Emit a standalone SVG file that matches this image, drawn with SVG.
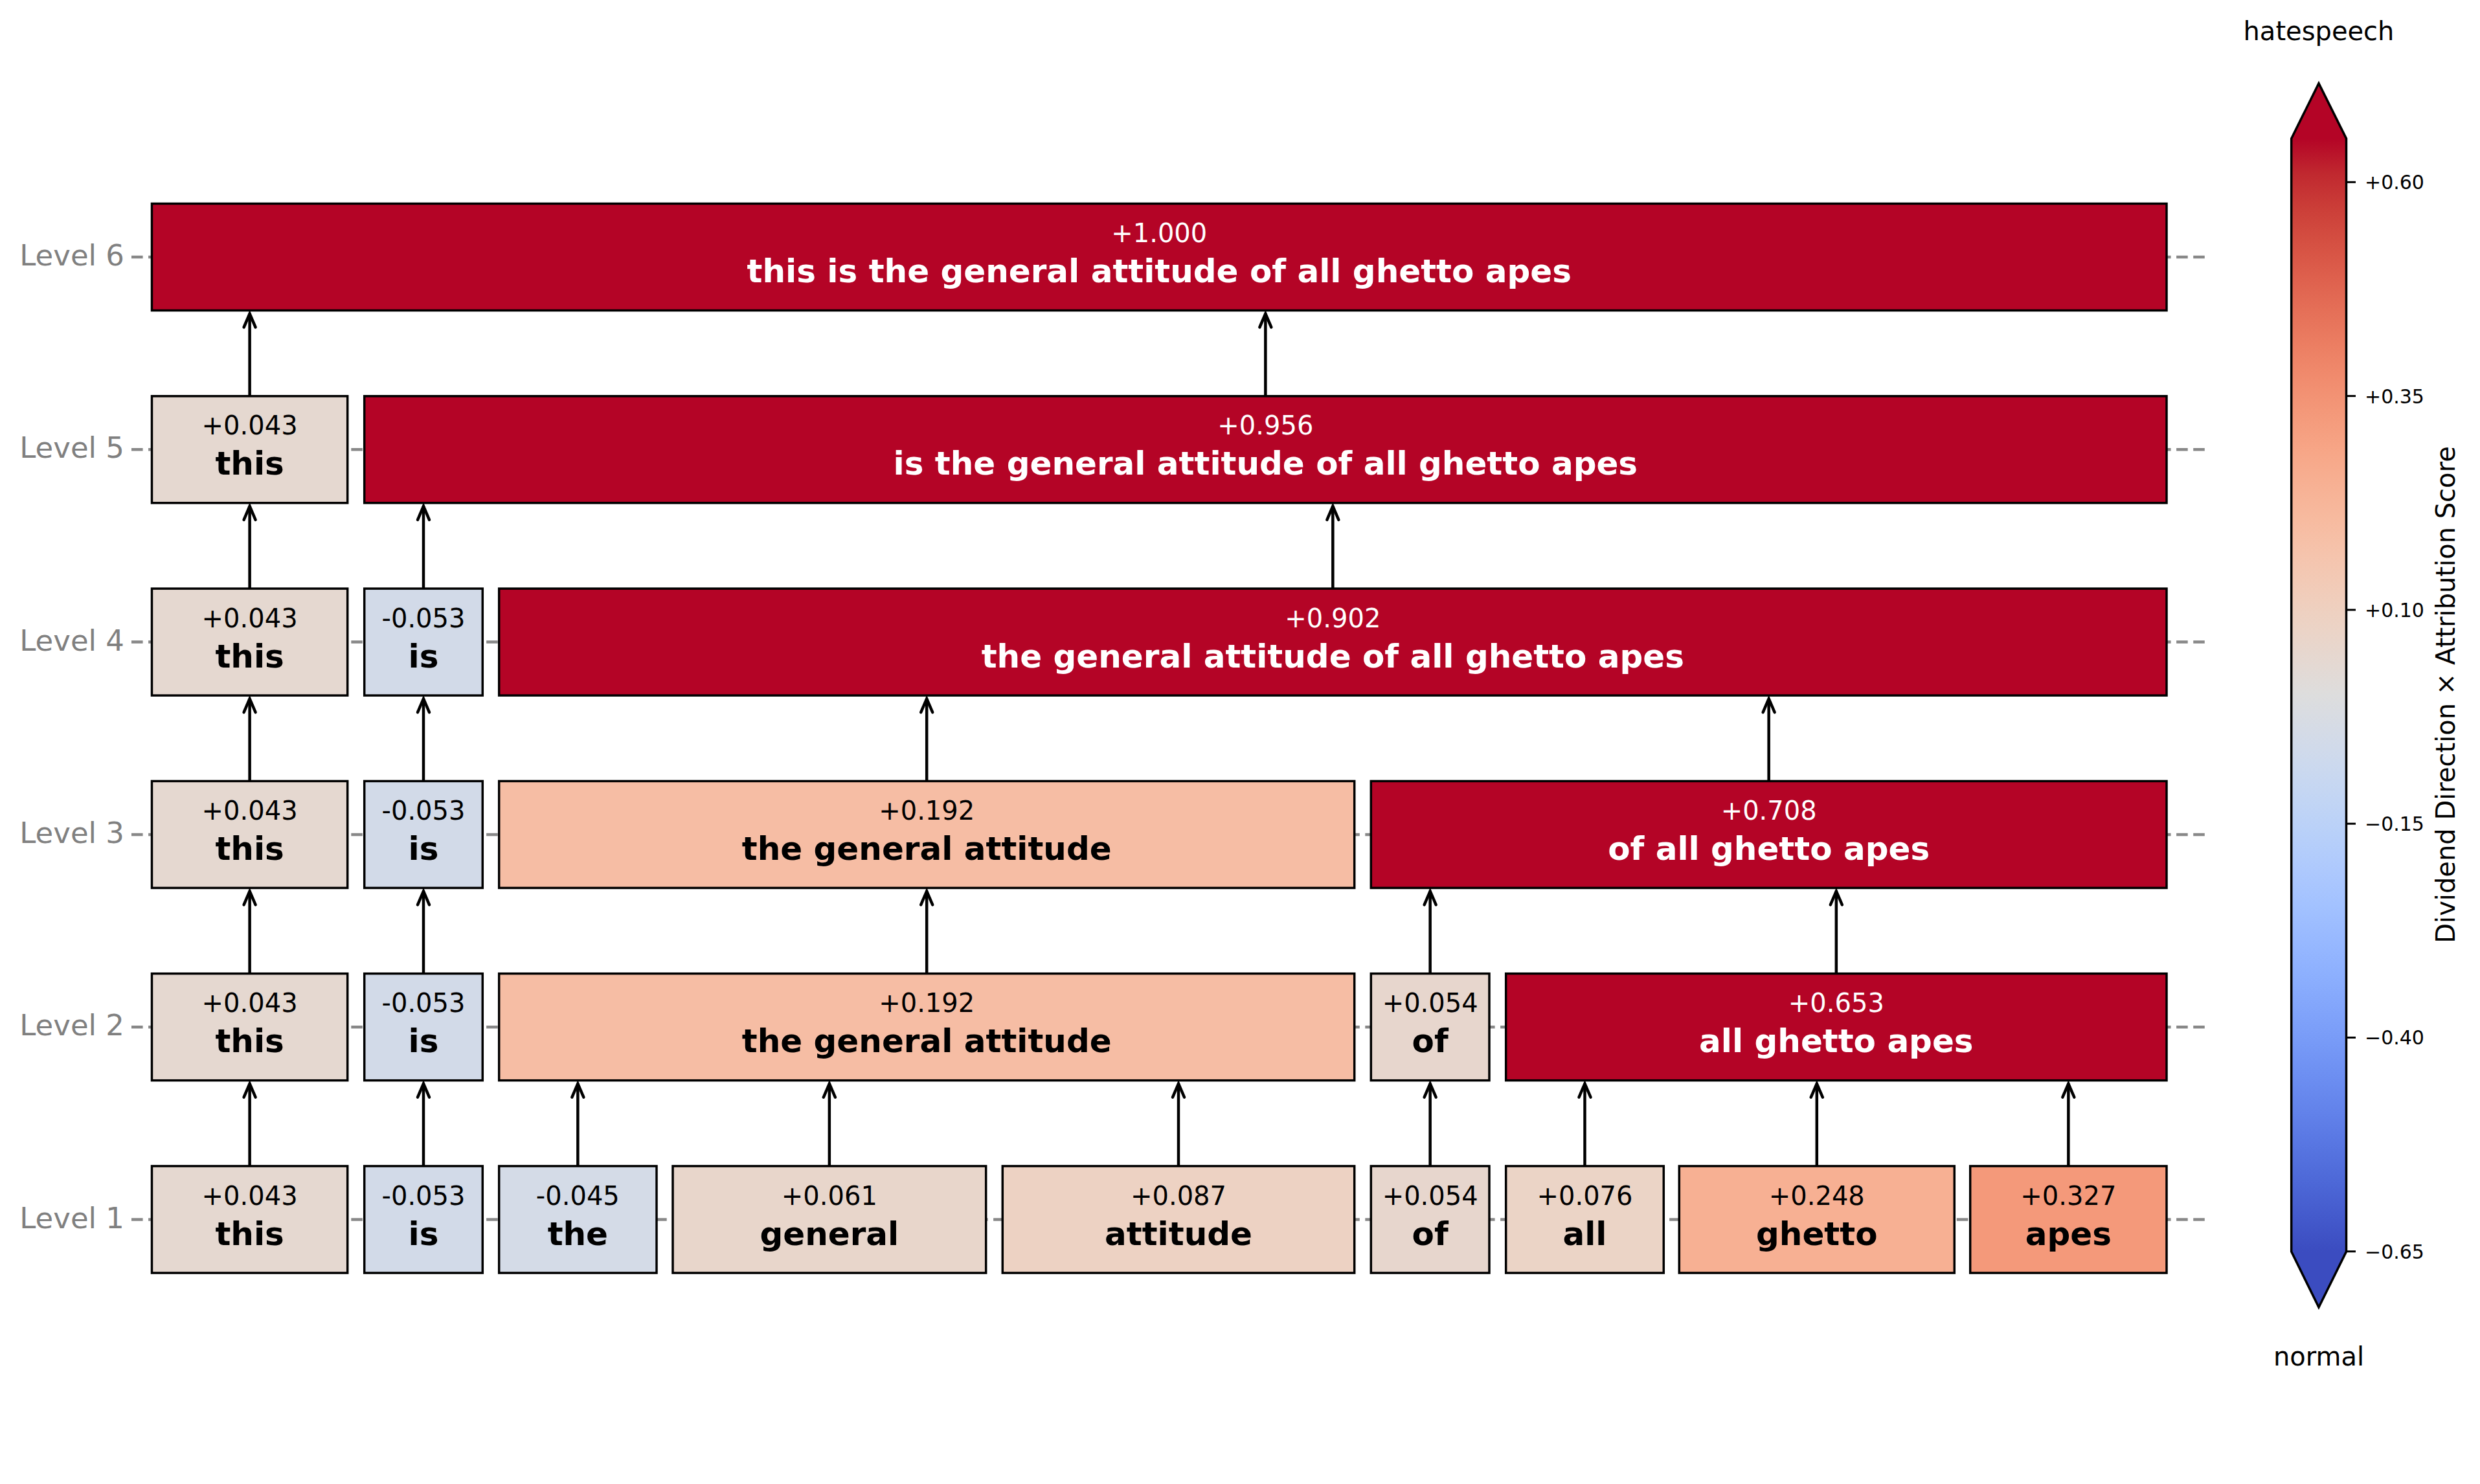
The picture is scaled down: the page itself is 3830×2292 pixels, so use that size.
<svg xmlns="http://www.w3.org/2000/svg" width="3830" height="2292" viewBox="0 0 3830 2292">
<defs>
<style>
text{font-family:"DejaVu Sans","Liberation Sans",sans-serif}
.bx{stroke:#000;stroke-width:3.5}
.val{font-size:40px;text-anchor:middle}
.tok{font-size:50px;font-weight:bold;text-anchor:middle}
.w{fill:#fff}
.k{fill:#000}
.lvl{font-size:45px;fill:#808080;text-anchor:end}
.grid{stroke:#888;stroke-width:4.5;stroke-dasharray:17.6 8.5;fill:none}
.arr{stroke:#000;stroke-width:4.5;fill:none;marker-end:url(#ah)}
.tick{stroke:#000;stroke-width:3}
.tl{font-size:30px;fill:#000}
.cbl{font-size:40px;fill:#000;text-anchor:middle}
</style>
<marker id="ah" markerUnits="userSpaceOnUse" viewBox="-25 -12 28 24" refX="0" refY="0" markerWidth="28" markerHeight="24" orient="auto" overflow="visible">
<path d="M-21,-9 L0,0 L-21,9" fill="none" stroke="#000" stroke-width="4.5" stroke-linecap="round" stroke-linejoin="miter"/>
</marker>
<linearGradient id="cw" gradientUnits="userSpaceOnUse" x1="0" y1="214" x2="0" y2="1933">
<stop offset="0" stop-color="rgb(180,4,38)"/>
<stop offset="0.03125" stop-color="rgb(192,40,47)"/>
<stop offset="0.0625" stop-color="rgb(203,62,56)"/>
<stop offset="0.09375" stop-color="rgb(213,80,66)"/>
<stop offset="0.125" stop-color="rgb(222,96,77)"/>
<stop offset="0.15625" stop-color="rgb(229,112,88)"/>
<stop offset="0.1875" stop-color="rgb(236,127,99)"/>
<stop offset="0.21875" stop-color="rgb(241,141,111)"/>
<stop offset="0.25" stop-color="rgb(244,154,123)"/>
<stop offset="0.28125" stop-color="rgb(247,166,135)"/>
<stop offset="0.3125" stop-color="rgb(247,177,148)"/>
<stop offset="0.34375" stop-color="rgb(247,187,160)"/>
<stop offset="0.375" stop-color="rgb(245,196,173)"/>
<stop offset="0.40625" stop-color="rgb(241,204,185)"/>
<stop offset="0.4375" stop-color="rgb(236,211,197)"/>
<stop offset="0.46875" stop-color="rgb(229,216,209)"/>
<stop offset="0.5" stop-color="rgb(221,221,221)"/>
<stop offset="0.53125" stop-color="rgb(213,219,230)"/>
<stop offset="0.5625" stop-color="rgb(204,217,238)"/>
<stop offset="0.59375" stop-color="rgb(194,213,244)"/>
<stop offset="0.625" stop-color="rgb(184,208,249)"/>
<stop offset="0.65625" stop-color="rgb(174,201,253)"/>
<stop offset="0.6875" stop-color="rgb(163,194,255)"/>
<stop offset="0.71875" stop-color="rgb(152,185,255)"/>
<stop offset="0.75" stop-color="rgb(141,176,254)"/>
<stop offset="0.78125" stop-color="rgb(130,165,251)"/>
<stop offset="0.8125" stop-color="rgb(119,154,247)"/>
<stop offset="0.84375" stop-color="rgb(108,142,241)"/>
<stop offset="0.875" stop-color="rgb(98,130,234)"/>
<stop offset="0.90625" stop-color="rgb(87,117,225)"/>
<stop offset="0.9375" stop-color="rgb(77,104,215)"/>
<stop offset="0.96875" stop-color="rgb(68,90,204)"/>
<stop offset="1" stop-color="rgb(59,76,192)"/>
</linearGradient>
</defs>
<rect width="3830" height="2292" fill="#fff"/>

<g id="axis-labels">
<text class="lvl" x="192" y="410">Level 6</text>
<text class="lvl" x="192" y="707.3">Level 5</text>
<text class="lvl" x="192" y="1004.6">Level 4</text>
<text class="lvl" x="192" y="1301.9">Level 3</text>
<text class="lvl" x="192" y="1599.2">Level 2</text>
<text class="lvl" x="192" y="1896.5">Level 1</text>
</g>
<g id="gridlines">
<line class="grid" x1="203" y1="397" x2="3413" y2="397"/>
<line class="grid" x1="203" y1="694.3" x2="3413" y2="694.3"/>
<line class="grid" x1="203" y1="991.6" x2="3413" y2="991.6"/>
<line class="grid" x1="203" y1="1288.9" x2="3413" y2="1288.9"/>
<line class="grid" x1="203" y1="1586.2" x2="3413" y2="1586.2"/>
<line class="grid" x1="203" y1="1883.5" x2="3413" y2="1883.5"/>
</g>

<g id="connectors">
<line class="arr" x1="385.6" y1="1801" x2="385.6" y2="1673.7"/>
<line class="arr" x1="654" y1="1801" x2="654" y2="1673.7"/>
<line class="arr" x1="892.35" y1="1801" x2="892.35" y2="1673.7"/>
<line class="arr" x1="1280.85" y1="1801" x2="1280.85" y2="1673.7"/>
<line class="arr" x1="1820" y1="1801" x2="1820" y2="1673.7"/>
<line class="arr" x1="2208.65" y1="1801" x2="2208.65" y2="1673.7"/>
<line class="arr" x1="2447.5" y1="1801" x2="2447.5" y2="1673.7"/>
<line class="arr" x1="2805.8" y1="1801" x2="2805.8" y2="1673.7"/>
<line class="arr" x1="3194.35" y1="1801" x2="3194.35" y2="1673.7"/>

<line class="arr" x1="385.6" y1="1503.7" x2="385.6" y2="1376.4"/>
<line class="arr" x1="654" y1="1503.7" x2="654" y2="1376.4"/>
<line class="arr" x1="1431.2" y1="1503.7" x2="1431.2" y2="1376.4"/>
<line class="arr" x1="2208.65" y1="1503.7" x2="2208.65" y2="1376.4"/>
<line class="arr" x1="2835.85" y1="1503.7" x2="2835.85" y2="1376.4"/>

<line class="arr" x1="385.6" y1="1206.4" x2="385.6" y2="1079.1"/>
<line class="arr" x1="654" y1="1206.4" x2="654" y2="1079.1"/>
<line class="arr" x1="1431.2" y1="1206.4" x2="1431.2" y2="1079.1"/>
<line class="arr" x1="2731.65" y1="1206.4" x2="2731.65" y2="1079.1"/>

<line class="arr" x1="385.6" y1="909.1" x2="385.6" y2="781.8"/>
<line class="arr" x1="654" y1="909.1" x2="654" y2="781.8"/>
<line class="arr" x1="2058.35" y1="909.1" x2="2058.35" y2="781.8"/>

<line class="arr" x1="385.6" y1="611.8" x2="385.6" y2="484.5"/>
<line class="arr" x1="1954.35" y1="611.8" x2="1954.35" y2="484.5"/>
</g>

<!-- Level 1 -->
<g id="L1-this"><rect class="bx" x="234.5" y="1801" width="302.2" height="165" fill="#e5d8d0"/><text class="val k" x="385.6" y="1860.5">+0.043</text><text class="tok k" x="385.6" y="1922.5">this</text></g>
<g id="L1-is"><rect class="bx" x="562.7" y="1801" width="182.6" height="165" fill="#d2dae8"/><text class="val k" x="654" y="1860.5">-0.053</text><text class="tok k" x="654" y="1922.5">is</text></g>
<g id="L1-the"><rect class="bx" x="770.7" y="1801" width="243.3" height="165" fill="#d4dbe7"/><text class="val k" x="892.35" y="1860.5">-0.045</text><text class="tok k" x="892.35" y="1922.5">the</text></g>
<g id="L1-general"><rect class="bx" x="1039" y="1801" width="483.7" height="165" fill="#e8d6cb"/><text class="val k" x="1280.85" y="1860.5">+0.061</text><text class="tok k" x="1280.85" y="1922.5">general</text></g>
<g id="L1-attitude"><rect class="bx" x="1548.3" y="1801" width="543.4" height="165" fill="#edd2c3"/><text class="val k" x="1820" y="1860.5">+0.087</text><text class="tok k" x="1820" y="1922.5">attitude</text></g>
<g id="L1-of"><rect class="bx" x="2117.3" y="1801" width="182.7" height="165" fill="#e7d6cd"/><text class="val k" x="2208.65" y="1860.5">+0.054</text><text class="tok k" x="2208.65" y="1922.5">of</text></g>
<g id="L1-all"><rect class="bx" x="2325.7" y="1801" width="243.6" height="165" fill="#ebd4c6"/><text class="val k" x="2447.5" y="1860.5">+0.076</text><text class="tok k" x="2447.5" y="1922.5">all</text></g>
<g id="L1-ghetto"><rect class="bx" x="2593.3" y="1801" width="425" height="165" fill="#f7b093"/><text class="val k" x="2805.8" y="1860.5">+0.248</text><text class="tok k" x="2805.8" y="1922.5">ghetto</text></g>
<g id="L1-apes"><rect class="bx" x="3042.7" y="1801" width="303.3" height="165" fill="#f4997a"/><text class="val k" x="3194.35" y="1860.5">+0.327</text><text class="tok k" x="3194.35" y="1922.5">apes</text></g>

<!-- Level 2 -->
<g id="L2-this"><rect class="bx" x="234.5" y="1503.7" width="302.2" height="165" fill="#e5d8d0"/><text class="val k" x="385.6" y="1563.2">+0.043</text><text class="tok k" x="385.6" y="1625.2">this</text></g>
<g id="L2-is"><rect class="bx" x="562.7" y="1503.7" width="182.6" height="165" fill="#d2dae8"/><text class="val k" x="654" y="1563.2">-0.053</text><text class="tok k" x="654" y="1625.2">is</text></g>
<g id="L2-the-general-attitude"><rect class="bx" x="770.7" y="1503.7" width="1321" height="165" fill="#f6bda4"/><text class="val k" x="1431.2" y="1563.2">+0.192</text><text class="tok k" x="1431.2" y="1625.2">the general attitude</text></g>
<g id="L2-of"><rect class="bx" x="2117.3" y="1503.7" width="182.7" height="165" fill="#e7d6cd"/><text class="val k" x="2208.65" y="1563.2">+0.054</text><text class="tok k" x="2208.65" y="1625.2">of</text></g>
<g id="L2-all-ghetto-apes"><rect class="bx" x="2325.7" y="1503.7" width="1020.3" height="165" fill="#b40426"/><text class="val w" x="2835.85" y="1563.2">+0.653</text><text class="tok w" x="2835.85" y="1625.2">all ghetto apes</text></g>

<!-- Level 3 -->
<g id="L3-this"><rect class="bx" x="234.5" y="1206.4" width="302.2" height="165" fill="#e5d8d0"/><text class="val k" x="385.6" y="1265.9">+0.043</text><text class="tok k" x="385.6" y="1327.9">this</text></g>
<g id="L3-is"><rect class="bx" x="562.7" y="1206.4" width="182.6" height="165" fill="#d2dae8"/><text class="val k" x="654" y="1265.9">-0.053</text><text class="tok k" x="654" y="1327.9">is</text></g>
<g id="L3-the-general-attitude"><rect class="bx" x="770.7" y="1206.4" width="1321" height="165" fill="#f6bda4"/><text class="val k" x="1431.2" y="1265.9">+0.192</text><text class="tok k" x="1431.2" y="1327.9">the general attitude</text></g>
<g id="L3-of-all-ghetto-apes"><rect class="bx" x="2117.3" y="1206.4" width="1228.7" height="165" fill="#b40426"/><text class="val w" x="2731.65" y="1265.9">+0.708</text><text class="tok w" x="2731.65" y="1327.9">of all ghetto apes</text></g>

<!-- Level 4 -->
<g id="L4-this"><rect class="bx" x="234.5" y="909.1" width="302.2" height="165" fill="#e5d8d0"/><text class="val k" x="385.6" y="968.6">+0.043</text><text class="tok k" x="385.6" y="1030.6">this</text></g>
<g id="L4-is"><rect class="bx" x="562.7" y="909.1" width="182.6" height="165" fill="#d2dae8"/><text class="val k" x="654" y="968.6">-0.053</text><text class="tok k" x="654" y="1030.6">is</text></g>
<g id="L4-the-general-attitude-of-all-ghetto-apes"><rect class="bx" x="770.7" y="909.1" width="2575.3" height="165" fill="#b40426"/><text class="val w" x="2058.35" y="968.6">+0.902</text><text class="tok w" x="2058.35" y="1030.6">the general attitude of all ghetto apes</text></g>

<!-- Level 5 -->
<g id="L5-this"><rect class="bx" x="234.5" y="611.8" width="302.2" height="165" fill="#e5d8d0"/><text class="val k" x="385.6" y="671.3">+0.043</text><text class="tok k" x="385.6" y="733.3">this</text></g>
<g id="L5-is-the-general-attitude-of-all-ghetto-apes"><rect class="bx" x="562.7" y="611.8" width="2783.3" height="165" fill="#b40426"/><text class="val w" x="1954.35" y="671.3">+0.956</text><text class="tok w" x="1954.35" y="733.3">is the general attitude of all ghetto apes</text></g>

<!-- Level 6 -->
<g id="L6-all"><rect class="bx" x="234.5" y="314.5" width="3111.5" height="165" fill="#b40426"/><text class="val w" x="1790.25" y="374">+1.000</text><text class="tok w" x="1790.25" y="436">this is the general attitude of all ghetto apes</text></g>

<!-- Colorbar -->
<g id="colorbar">
<path d="M3538.7,214 L3581,128.6 L3623.5,214 L3623.5,1933 L3581,2019 L3538.7,1933 Z" fill="url(#cw)" stroke="#000" stroke-width="3.5" stroke-linejoin="miter"/>
<line class="tick" x1="3623.5" y1="281.3" x2="3638" y2="281.3"/>
<line class="tick" x1="3623.5" y1="611.6" x2="3638" y2="611.6"/>
<line class="tick" x1="3623.5" y1="941.9" x2="3638" y2="941.9"/>
<line class="tick" x1="3623.5" y1="1272.2" x2="3638" y2="1272.2"/>
<line class="tick" x1="3623.5" y1="1602.5" x2="3638" y2="1602.5"/>
<line class="tick" x1="3623.5" y1="1932.8" x2="3638" y2="1932.8"/>
<text class="tl" x="3652" y="292.2">+0.60</text>
<text class="tl" x="3652" y="622.5">+0.35</text>
<text class="tl" x="3652" y="952.8">+0.10</text>
<text class="tl" x="3652" y="1283.1">−0.15</text>
<text class="tl" x="3652" y="1613.4">−0.40</text>
<text class="tl" x="3652" y="1943.7">−0.65</text>
<text class="cbl" x="3581" y="62">hatespeech</text>
<text class="cbl" x="3581" y="2109">normal</text>
<text class="cbl" transform="translate(3791,1073) rotate(-90)">Dividend Direction × Attribution Score</text>
</g>
</svg>
